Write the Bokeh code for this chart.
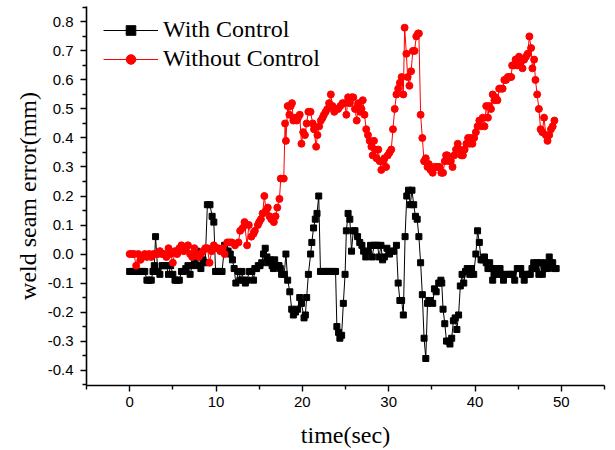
from bokeh.plotting import figure
from bokeh.models import Range1d, FixedTicker, PrintfTickFormatter, Legend, LegendItem
from bokeh.embed import file_html
from bokeh.resources import INLINE

# ---- data: With Control ----
time_with = [
    0.0, 0.25, 0.5, 0.75, 1.0, 1.25, 1.5, 1.75, 2.0, 2.25,
    2.5, 2.7, 2.85, 3.0, 3.25, 3.5, 3.75, 4.0, 4.25, 4.5,
    4.75, 5.0, 5.25, 5.5, 5.75, 6.0, 6.25, 6.5, 6.75, 7.0,
    7.25, 7.5, 7.75, 8.0, 8.25, 8.5, 8.75, 9.0, 9.3, 9.55,
    9.75, 9.95, 10.2, 10.45, 10.7, 11.0, 11.2, 11.4, 11.65, 11.9,
    12.1, 12.3, 12.6, 12.8, 13.0, 13.2, 13.4, 13.6, 13.85, 14.15,
    14.35, 14.5, 14.7, 14.9, 15.1, 15.3, 15.5, 15.7, 15.9, 16.05,
    16.25, 16.5, 16.65, 16.8, 17.0, 17.15, 17.3, 17.45, 17.6, 17.9,
    18.1, 18.3, 18.55, 18.77, 18.96, 19.2, 19.45, 19.7, 19.9, 20.2,
    20.35, 20.5, 20.7, 20.96, 21.1, 21.3, 21.5, 21.7, 21.9, 22.1,
    22.35, 22.6, 22.85, 23.1, 23.35, 23.6, 23.85, 24.0, 24.2, 24.35,
    24.55, 24.75, 24.95, 25.1, 25.3, 25.5, 25.7, 25.9, 26.1, 26.4,
    26.65, 26.9, 27.1, 27.35, 27.6, 27.9, 28.1, 28.3, 28.5, 28.7,
    28.9, 29.1, 29.3, 29.5, 29.8, 30.1, 30.4, 30.6, 30.9, 31.1,
    31.3, 31.5, 31.7, 31.9, 32.1, 32.3, 32.5, 32.7, 32.9, 33.1,
    33.3, 33.5, 33.7, 33.9, 34.1, 34.3, 34.5, 34.65, 34.8, 35.1,
    35.3, 35.5, 35.8, 36.05, 36.15, 36.3, 36.5, 36.7, 36.9, 37.1,
    37.3, 37.5, 37.7, 37.9, 38.1, 38.3, 38.5, 38.7, 38.9, 39.1,
    39.4, 39.6, 39.85, 40.1, 40.3, 40.5, 40.7, 40.9, 41.1, 41.3,
    41.5, 41.7, 41.9, 42.05, 42.2, 42.5, 42.7, 42.9, 43.1, 43.3,
    43.6, 43.9, 44.2, 44.4, 44.6, 44.9, 45.1, 45.3, 45.5, 45.7,
    45.9, 46.2, 46.4, 46.6, 46.8, 47.0, 47.2, 47.4, 47.6, 47.8,
    48.0, 48.2, 48.4, 48.6, 48.8, 49.0, 49.2, 49.4,
]
err_with = [
    -0.06, -0.06, -0.06, -0.06, -0.06, -0.06, -0.06, -0.06, -0.09, -0.09,
    -0.09, -0.06, -0.04, 0.06, -0.06, -0.07, -0.04, -0.04, -0.04, -0.07,
    -0.04, -0.07, -0.09, -0.09, -0.09, -0.06, -0.06, -0.05, -0.04, -0.07,
    -0.04, -0.02, 0.01, -0.04, -0.05, -0.02, -0.03, 0.17, 0.17, 0.13,
    0.11, -0.06, -0.06, -0.06, -0.06, 0.03, 0.01, 0.01, 0.00, -0.02,
    -0.05, -0.10, -0.06, -0.09, -0.06, -0.09, -0.10, -0.09, -0.06, -0.06,
    -0.09, -0.05, -0.05, -0.04, -0.04, -0.03, 0.00, 0.02, -0.01, -0.03,
    -0.02, -0.04, -0.05, -0.02, -0.04, -0.04, -0.04, -0.05, -0.07, -0.07,
    0.00, -0.09, -0.13, -0.19, -0.21, -0.20, -0.19, -0.15, -0.17, -0.22,
    -0.21, -0.15, -0.07, 0.00, 0.04, 0.09, 0.12, 0.14, 0.20, -0.06,
    -0.06, -0.06, -0.06, -0.06, -0.06, -0.06, -0.06, -0.25, -0.27, -0.29,
    -0.28, -0.17, -0.07, 0.08, 0.14, 0.12, 0.01, 0.08, 0.08, 0.06,
    0.04, 0.03, 0.01, -0.01, 0.01, 0.03, -0.01, 0.03, 0.03, 0.03,
    -0.01, 0.03, -0.02, -0.01, 0.02, 0.00, 0.01, 0.01, 0.03, -0.10,
    -0.16, -0.16, -0.21, 0.06, 0.20, 0.22, 0.17, 0.22, 0.17, 0.13,
    0.12, 0.06, -0.03, -0.14, -0.29, -0.36, -0.17, -0.16, -0.16, -0.17,
    -0.12, -0.13, -0.10, -0.09, -0.10, -0.19, -0.24, -0.30, -0.30, -0.31,
    -0.29, -0.23, -0.22, -0.26, -0.21, -0.11, -0.07, -0.10, -0.06, -0.05,
    -0.07, -0.05, -0.07, 0.00, 0.08, 0.04, -0.02, -0.02, -0.01, -0.03,
    -0.05, -0.03, -0.05, -0.09, -0.07, -0.05, -0.07, -0.05, -0.07, -0.09,
    -0.07, -0.07, -0.07, -0.07, -0.09, -0.05, -0.05, -0.05, -0.07, -0.09,
    -0.07, -0.07, -0.07, -0.05, -0.03, -0.05, -0.03, -0.07, -0.03, -0.07,
    -0.05, -0.03, -0.05, -0.01, -0.03, -0.03, -0.05, -0.05,
]

# ---- data: Without Control ----
time_without = [
    0.0, 0.25, 0.5, 0.75, 1.0, 1.25, 1.5, 1.75, 2.0, 2.25,
    2.5, 2.75, 3.0, 3.25, 3.5, 3.75, 4.0, 4.25, 4.5, 4.75,
    5.0, 5.25, 5.5, 5.75, 6.0, 6.25, 6.5, 6.75, 7.0, 7.25,
    7.5, 7.75, 8.0, 8.25, 8.5, 8.75, 9.0, 9.25, 9.5, 9.75,
    10.0, 10.25, 10.5, 10.75, 11.0, 11.3, 11.55, 11.85, 12.2, 12.6,
    12.8, 13.1, 13.3, 13.6, 13.8, 14.1, 14.35, 14.5, 14.85, 15.0,
    15.2, 15.4, 15.6, 15.8, 16.0, 16.2, 16.4, 16.7, 16.9, 17.1,
    17.35, 17.5, 17.85, 18.0, 18.1, 18.3, 18.5, 18.65, 18.8, 18.96,
    19.15, 19.35, 19.5, 19.7, 19.9, 20.1, 20.3, 20.5, 20.7, 20.95,
    21.2, 21.35, 21.6, 21.75, 21.95, 22.15, 22.35, 22.5, 22.7, 22.9,
    23.1, 23.3, 23.5, 23.7, 23.9, 24.15, 24.4, 24.65, 24.9, 25.1,
    25.3, 25.5, 25.7, 25.9, 26.1, 26.3, 26.5, 26.7, 26.85, 27.0,
    27.2, 27.4, 27.6, 27.8, 28.0, 28.15, 28.3, 28.45, 28.6, 28.8,
    28.96, 29.15, 29.3, 29.5, 29.7, 29.9, 30.1, 30.3, 30.5, 30.7,
    30.9, 31.1, 31.3, 31.5, 31.7, 31.85, 32.05, 32.2, 32.4, 32.6,
    32.8, 33.0, 33.2, 33.4, 33.5, 33.7, 33.9, 34.1, 34.3, 34.5,
    34.65, 34.85, 35.1, 35.3, 35.5, 35.7, 35.9, 36.1, 36.3, 36.5,
    36.65, 36.8, 37.0, 37.2, 37.4, 37.6, 37.8, 38.0, 38.2, 38.4,
    38.6, 38.8, 39.0, 39.2, 39.35, 39.5, 39.7, 39.9, 40.1, 40.3,
    40.5, 40.7, 40.9, 41.1, 41.3, 41.5, 41.65, 41.85, 42.05, 42.25,
    42.4, 42.6, 42.8, 43.0, 43.2, 43.4, 43.6, 43.8, 44.0, 44.2,
    44.3, 44.5, 44.7, 44.9, 45.1, 45.3, 45.5, 45.7, 45.9, 46.1,
    46.3, 46.5, 46.65, 46.85, 47.0, 47.2, 47.4, 47.6, 47.8, 48.0,
    48.2, 48.4, 48.6, 48.8, 49.0, 49.2,
]
err_without = [
    0.00, 0.00, 0.00, -0.04, 0.00, -0.02, -0.01, 0.00, -0.01, 0.00,
    -0.01, 0.00, 0.00, 0.00, 0.01, 0.00, 0.00, -0.01, 0.02, 0.00,
    -0.03, 0.01, 0.00, 0.02, 0.03, 0.01, 0.02, 0.03, 0.00, -0.01,
    0.02, 0.00, -0.01, 0.00, 0.01, 0.02, 0.02, -0.03, 0.01, 0.03,
    0.02, 0.02, 0.01, 0.02, 0.00, 0.04, 0.04, 0.04, 0.03, 0.04,
    0.08, 0.09, 0.11, 0.03, 0.10, 0.06, 0.07, 0.08, 0.10, 0.11,
    0.12, 0.14, 0.20, 0.15, 0.16, 0.13, 0.12, 0.11, 0.13, 0.16,
    0.19, 0.26, 0.26, 0.45, 0.39, 0.51, 0.48, 0.51, 0.52, 0.46,
    0.47, 0.46, 0.47, 0.48, 0.38, 0.42, 0.41, 0.45, 0.49, 0.49,
    0.45, 0.43, 0.37, 0.41, 0.44, 0.46, 0.47, 0.48, 0.49, 0.50,
    0.52, 0.55, 0.51, 0.49, 0.50, 0.50, 0.51, 0.52, 0.52, 0.48,
    0.54, 0.52, 0.54, 0.54, 0.50, 0.46, 0.52, 0.49, 0.50, 0.53,
    0.48, 0.43, 0.41, 0.39, 0.37, 0.34, 0.39, 0.36, 0.33, 0.36,
    0.32, 0.29, 0.32, 0.33, 0.30, 0.34, 0.35, 0.36, 0.43, 0.50,
    0.55, 0.57, 0.59, 0.61, 0.55, 0.78, 0.69, 0.61, 0.58, 0.63,
    0.70, 0.70, 0.75, 0.76, 0.76, 0.48, 0.40, 0.32, 0.33, 0.30,
    0.31, 0.29, 0.28, 0.30, 0.30, 0.30, 0.30, 0.28, 0.28, 0.32,
    0.34, 0.34, 0.32, 0.32, 0.30, 0.34, 0.36, 0.38, 0.36, 0.34,
    0.34, 0.36, 0.38, 0.40, 0.38, 0.40, 0.38, 0.40, 0.42, 0.44,
    0.46, 0.44, 0.47, 0.44, 0.51, 0.47, 0.51, 0.50, 0.55, 0.53,
    0.54, 0.53, 0.57, 0.57, 0.57, 0.60, 0.60, 0.61, 0.61, 0.61,
    0.65, 0.65, 0.67, 0.65, 0.68, 0.66, 0.64, 0.67, 0.68, 0.69,
    0.75, 0.71, 0.64, 0.67, 0.60, 0.55, 0.50, 0.43, 0.42, 0.47,
    0.41, 0.39, 0.41, 0.43, 0.44, 0.46,
]

# ---- ticks ----
x_major = [0, 10, 20, 30, 40, 50]
x_minor = [-5, 5, 15, 25, 35, 45, 55]
y_major = [-0.4, -0.3, -0.2, -0.1, 0.0, 0.1, 0.2, 0.3, 0.4, 0.5, 0.6, 0.7, 0.8]
y_minor = [-0.45, -0.35, -0.25, -0.15, -0.05, 0.05, 0.15, 0.25, 0.35, 0.45,
           0.55, 0.65, 0.75, 0.85]

x_label = "time(sec)"
y_label = "weld seam error(mm)"
series_labels = ["With Control", "Without Control"]

p = figure(width=615, height=450, output_backend="svg", toolbar_location=None,
           x_range=Range1d(-5, 55), y_range=Range1d(-0.453, 0.853),
           min_border_left=86, min_border_right=11, min_border_top=6,
           min_border_bottom=63)
p.background_fill_color = "white"
p.border_fill_color = "white"
p.outline_line_color = None
p.xgrid.visible = False
p.ygrid.visible = False

for ax in (p.xaxis[0], p.yaxis[0]):
    ax.axis_line_color = "black"
    ax.axis_line_width = 1.6
    ax.major_tick_line_color = "black"
    ax.major_tick_line_width = 1.4
    ax.minor_tick_line_color = "black"
    ax.minor_tick_line_width = 1.4
    ax.major_tick_in = 0
    ax.major_tick_out = 6
    ax.minor_tick_in = 0
    ax.minor_tick_out = 4
    ax.major_label_text_font = "Liberation Sans"
    ax.major_label_text_font_size = "15px"
    ax.major_label_text_color = "black"
    ax.axis_label_text_font = "Liberation Serif"
    ax.axis_label_text_font_size = "24px"
    ax.axis_label_text_font_style = "normal"
    ax.axis_label_text_color = "black"

p.xaxis[0].ticker = FixedTicker(ticks=x_major, minor_ticks=x_minor)
p.yaxis[0].ticker = FixedTicker(ticks=y_major, minor_ticks=y_minor)
p.yaxis[0].formatter = PrintfTickFormatter(format="%.1f")
p.xaxis[0].formatter = PrintfTickFormatter(format="%d")
p.xaxis[0].major_label_standoff = 5
p.yaxis[0].major_label_standoff = 7
p.xaxis[0].axis_label = x_label
p.yaxis[0].axis_label = y_label
p.xaxis[0].axis_label_standoff = 12
p.yaxis[0].axis_label_standoff = 4

lb = p.line(time_with, err_with, line_color="black", line_width=1)
sb = p.scatter(time_with, err_with, marker="square", size=6,
               fill_color="black", line_color="black")
lr = p.line(time_without, err_without, line_color="red", line_width=1)
sr = p.scatter(time_without, err_without, marker="circle", size=7,
               fill_color="red", line_color="red")

legend = Legend(items=[LegendItem(label=series_labels[0], renderers=[lb, sb]),
                       LegendItem(label=series_labels[1], renderers=[lr, sr])],
                location=(17, 313))
legend.label_text_font = "Liberation Serif"
legend.label_text_font_size = "24px"
legend.label_text_color = "black"
legend.glyph_width = 55
legend.glyph_height = 24
legend.label_height = 24
legend.label_standoff = 5
legend.spacing = 2
legend.padding = 0
legend.margin = 0
legend.border_line_color = None
legend.background_fill_alpha = 0
p.add_layout(legend)

open("out.html", "w").write(file_html(p, INLINE))
